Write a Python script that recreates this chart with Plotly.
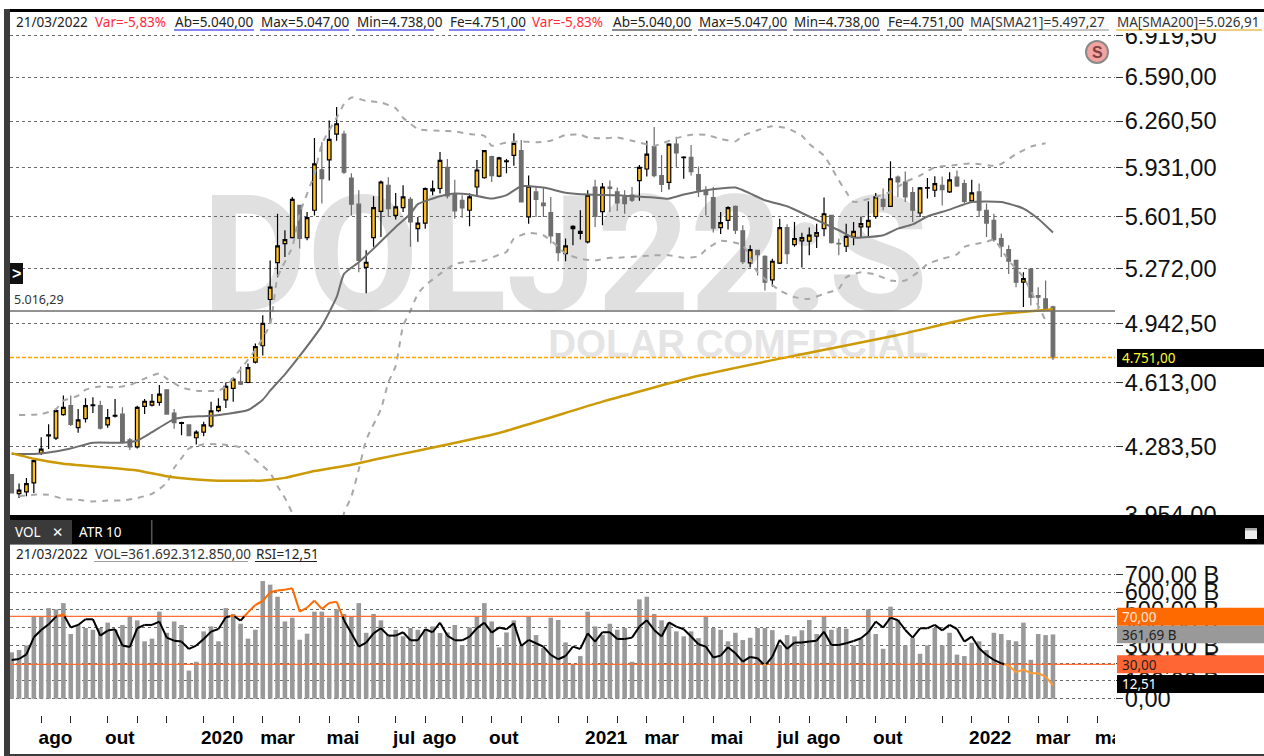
import pandas as pd
import plotly.graph_objects as go

W, H = 1264, 756
dates = list(pd.date_range("2019-07-08", periods=150, freq="7D"))
N = 142

opens = [4145,4054,4062,4105,4249,4336,4325,4445,4492,4378,
4425,4492,4492,4392,4437,4448,4316,4281,4488,4495,
4509,4576,4453,4400,4392,4327,4355,4387,4466,4522,
4583,4618,4615,4726,4817,5084,5308,5427,5465,5674,
5465,5642,5915,5983,6166,6166,5858,5682,5278,5465,
5635,5809,5608,5659,5714,5522,5558,5771,5787,5931,
5746,5708,5642,5797,5860,6006,5871,5971,6015,6048,
5599,5764,5690,5626,5491,5363,5522,5491,5438,5797,
5633,5797,5764,5730,5742,5840,5920,6077,5875,5829,
6095,5999,6001,5882,5775,5726,5529,5576,5668,5508,
5306,5384,5346,5202,5304,5529,5420,5444,5442,5474,
5522,5608,5429,5410,5469,5533,5533,5601,5714,5668,
5864,5831,5760,5624,5789,5775,5809,5764,5864,5820,
5704,5764,5642,5576,5459,5389,5321,5188,5268,5108,
5088,5040]
closes = [4057,4070,4101,4213,4270,4342,4466,4483,4395,4418,
4492,4496,4375,4430,4441,4308,4281,4483,4515,4515,
4553,4448,4404,4404,4337,4355,4392,4465,4488,4594,
4633,4606,4696,4812,4944,5158,5412,5452,5714,5459,
5593,5955,5853,6128,6241,5898,5682,5321,5310,5659,
5831,5653,5664,5730,5565,5558,5787,5784,5980,5737,
5637,5657,5730,5913,6048,5875,5997,5976,6100,5697,
5802,5713,5673,5476,5369,5412,5537,5505,5742,5601,
5797,5787,5690,5686,5708,5931,6024,5875,5815,6095,
6032,6003,5902,5775,5746,5526,5561,5659,5512,5314,
5389,5357,5188,5316,5529,5363,5459,5465,5480,5497,
5619,5433,5425,5473,5505,5554,5576,5730,5668,5853,
5831,5730,5642,5791,5793,5820,5780,5846,5804,5701,
5757,5642,5558,5452,5410,5316,5188,5210,5098,5098,
5028,4751]
highs = [4145,4102,4129,4225,4330,4395,4474,4545,4545,4474,
4531,4536,4518,4474,4527,4483,4325,4492,4527,4553,
4602,4576,4474,4408,4395,4365,4409,4513,4531,4615,
4642,4701,4719,4830,4992,5321,5619,5512,5730,5674,
5630,6138,6107,6265,6365,6190,5891,5775,5384,5735,
5842,5864,5757,5809,5730,5597,5793,5842,6039,5990,
5847,5742,5753,5983,6053,6013,6006,5990,6173,6124,
5875,5793,5793,5730,5491,5459,5544,5642,5775,5847,
5824,5842,5793,5775,5797,5947,6119,6218,6018,6100,
6147,6008,6088,5938,5802,5797,5630,5668,5674,5544,
5416,5384,5353,5331,5586,5550,5565,5495,5529,5554,
5726,5608,5459,5554,5565,5601,5701,5757,5787,5973,
5875,5902,5797,5797,5858,5871,5869,5898,5909,5846,
5846,5820,5686,5619,5491,5416,5325,5248,5268,5158,
5198,5047]
lows = [4057,4033,4041,4057,4241,4271,4316,4439,4387,4352,
4404,4453,4369,4378,4430,4299,4265,4273,4448,4488,
4492,4448,4373,4339,4334,4293,4334,4378,4457,4480,
4513,4601,4611,4719,4762,4948,5218,5342,5459,5395,
5448,5608,5686,5842,6119,5886,5608,5248,5122,5406,
5469,5597,5582,5630,5406,5438,5522,5742,5753,5720,
5586,5593,5537,5730,5853,5831,5864,5891,5943,5697,
5554,5597,5597,5427,5316,5316,5416,5452,5427,5533,
5544,5630,5637,5619,5697,5704,5869,5864,5764,5780,
5931,5853,5875,5730,5608,5497,5487,5516,5487,5299,
5278,5228,5138,5162,5299,5299,5406,5278,5353,5399,
5474,5427,5353,5374,5416,5465,5469,5586,5642,5664,
5730,5697,5565,5597,5719,5730,5674,5757,5797,5686,
5690,5597,5469,5438,5342,5238,5158,5040,5048,5028,
5018,4738]

sma21_idx = [0,3,5,8,11,15,17,19,22,24,27,32,34,35,37,39,42,44,45,47,49,52,54,55,58,60,62,65,67,69,72,75,78,82,87,89,91,94,98,102,105,108,112,114,118,120,122,124,127,130,134,137,139,141]
sma21_val = [4246,4246,4253,4273,4302,4302,4313,4355,4422,4434,4439,4469,4523,4571,4659,4760,4930,5098,5238,5310,5395,5533,5619,5682,5735,5753,5746,5719,5742,5802,5793,5759,5746,5742,5726,5719,5746,5775,5793,5708,5668,5601,5512,5465,5480,5522,5550,5601,5646,5697,5697,5653,5586,5497]

sma200_idx = [0,3,7,12,17,21,25,28,34,37,41,46,50,55,66,80,93,107,120,131,141]
sma200_val = [4250,4222,4198,4182,4165,4137,4121,4115,4117,4129,4162,4193,4225,4262,4351,4513,4651,4770,4878,4984,5027]

upper_idx = [1,4,6,7,9,10,12,14,16,18,20,21,23,25,28,29,31,33,35,36,38,39,41,42,44,45,46,48,50,52,53,55,58,60,62,64,65,67,69,71,73,75,77,78,80,82,84,87,90,92,94,96,98,99,101,103,105,107,108,110,111,112,113,114,117,119,121,123,125,127,130,133,134,136,138,140]
upper_val = [4443,4448,4474,4518,4545,4576,4594,4589,4601,4636,4664,4636,4589,4571,4571,4594,4687,4795,4938,5218,5406,5619,5886,6095,6285,6385,6435,6410,6398,6355,6285,6203,6190,6185,6166,6154,6083,6107,6114,6107,6119,6159,6161,6142,6135,6142,6119,6083,6137,6161,6161,6131,6114,6154,6194,6223,6208,6154,6095,6013,5931,5842,5764,5697,5730,5764,5831,5875,5931,5943,5959,5943,5955,6024,6077,6100]

lower_idx = [1,3,5,7,9,11,13,15,17,19,21,22,23,24,26,28,31,33,35,36,37,38,40,42,44,45,46,47,48,50,51,52,53,54,55,56,58,60,62,64,66,67,68,70,72,74,75,77,79,81,82,85,87,89,91,93,94,96,99,101,104,106,108,110,112,113,115,117,119,121,123,124,126,128,129,132,133,135,137,139,140]
lower_val = [4041,4049,4049,4029,4025,4017,4021,4022,4033,4053,4105,4177,4225,4273,4294,4294,4278,4217,4153,4089,4033,3962,3790,3740,3800,3962,4041,4169,4316,4474,4615,4705,4930,5018,5118,5168,5238,5299,5314,5321,5357,5374,5459,5495,5480,5406,5363,5331,5321,5338,5338,5346,5353,5353,5338,5346,5389,5444,5416,5248,5138,5098,5088,5118,5148,5218,5248,5234,5198,5198,5258,5299,5331,5359,5406,5438,5452,5321,5218,5048,4960]

volume = [261,274,300,463,463,510,503,538,364,416,
398,388,398,428,388,415,463,441,323,338,
490,371,435,415,158,208,379,407,323,510,
477,422,338,388,662,642,574,435,456,332,
366,490,490,456,503,477,463,538,371,477,
441,360,388,351,398,388,388,407,370,373,
415,302,401,463,538,435,289,373,441,300,
463,358,285,456,443,317,195,240,490,407,
360,422,388,398,208,559,574,477,441,426,
379,351,379,341,463,398,388,323,371,330,
343,398,398,386,300,358,351,385,443,364,
463,388,398,394,300,338,503,364,281,518,
445,300,341,253,300,398,300,371,248,240,
315,323,274,371,364,330,323,428,219,364,
358,361.69]

rsi = [33.6,34.4,38.3,52.5,58.6,63.3,69.7,71.7,60.6,62.8,
67.5,67.5,53.9,58.1,59.2,45.6,44.4,60,62.8,62.8,
65.6,52.2,49.7,48.9,42.8,45.6,51.1,57.2,59.4,69.2,
70.6,66.4,73.3,79.4,82.8,90,91.4,92.2,93.3,73.9,
77.2,83.1,76.1,81.1,82.2,66.7,55.8,44.7,48.1,55.8,
60,53.9,53.9,56.7,50,50,59.2,56.7,64.7,53.9,
50,50,53.1,60,64.7,56.4,60.6,59.2,64.2,45.3,
50.3,47.5,44.7,37.8,34.2,36.9,44.7,42.8,55.8,48.9,
56.7,56.7,51.1,51.1,52.2,61.4,66.7,58.6,53.1,65,
61.4,59.2,53.1,46.7,44.7,35.6,37.2,44.2,39.2,32.2,
36.1,35,28.9,36.4,50.3,42.8,48.1,48.1,48.9,49.7,
57.2,46.1,46.1,47.5,49.4,51.7,56.7,65.6,60.6,68.9,
66.7,58.6,52.2,60,60,62.8,58.3,62.8,59.4,48.9,
53.1,43.3,37.8,33.6,30.8,28.9,23.3,25.8,22.5,22.5,
19.7,12.51]

price_ticks = [3954,4283.5,4613,4942.5,5272,5601.5,5931,6260.5,6590,6919.5]
price_labels = ["3.954,00","4.283,50","4.613,00","4.942,50","5.272,00","5.601,50","5.931,00","6.260,50","6.590,00","6.919,50"]
vol_ticks = [0,100,200,300,400,500,600,700]
vol_labels = ["0,00","100,00 B","200,00 B","300,00 B","400,00 B","500,00 B","600,00 B","700,00 B"]
tick_idx = [4,8,13,17,21,26,30,34,39,43,47,52,56,61,65,69,74,78,82,86,91,95,100,104,108,113,117,121,126,130,135,139,143,147]
label_idx = [4,13,26,34,43,52,56,65,78,86,95,104,108,117,130,139,147]
label_txt = ["ago","out","2020","mar","mai","jul","ago","out","2021","mar","mai","jul","ago","out","2022","mar","mai"]

X_RANGE = ["2019-07-06 10:00", "2022-05-18 19:00"]
def xp(px): return px / W
def yp(px): return 1 - px / H
FONT = "Noto Sans"
AR = "Liberation Sans"

def pick(idx): return [dates[i] for i in idx]

def split_rsi():
    hi_x, hi_y, mid_x, mid_y, lo_x, lo_y = [], [], [], [], [], []
    def zone(v): return 2 if v > 70 else (0 if v < 30 else 1)
    buckets = {2: (hi_x, hi_y), 1: (mid_x, mid_y), 0: (lo_x, lo_y)}
    week = pd.Timedelta(days=7)
    for i in range(len(rsi) - 1):
        a, b = rsi[i], rsi[i + 1]
        pts = [(0.0, a)]
        for lev in (30, 70):
            if (a - lev) * (b - lev) < 0:
                pts.append(((lev - a) / (b - a), lev))
        pts.append((1.0, b))
        pts.sort()
        for (t0, v0), (t1, v1) in zip(pts[:-1], pts[1:]):
            z = zone((v0 + v1) / 2)
            bx, by = buckets[z]
            bx += [dates[i] + week * t0, dates[i] + week * t1, None]
            by += [v0, v1, None]
    return hi_x, hi_y, mid_x, mid_y, lo_x, lo_y

fig = go.Figure()
# Price pane
fig.add_trace(go.Candlestick(x=dates[:N], open=opens, high=highs, low=lows, close=closes,
    increasing=dict(line=dict(color="#000000", width=1.2), fillcolor="#FFBF1F"),
    decreasing=dict(line=dict(color="#6E6E6E", width=1.2), fillcolor="#6E6E6E"),
    whiskerwidth=0, xaxis="x", yaxis="y", hoverinfo="skip", showlegend=False))
band = dict(color="#A8A8A8", width=2, dash="6px,6px", shape="spline", smoothing=0.5)
fig.add_trace(go.Scatter(x=pick(upper_idx), y=upper_val, mode="lines", line=band, xaxis="x", yaxis="y", showlegend=False))
fig.add_trace(go.Scatter(x=pick(lower_idx), y=lower_val, mode="lines", line=band, xaxis="x", yaxis="y", showlegend=False))
fig.add_trace(go.Scatter(x=pick(sma21_idx), y=sma21_val, mode="lines",
    line=dict(color="#6E6E6E", width=2, shape="spline", smoothing=0.5), xaxis="x", yaxis="y", showlegend=False))
fig.add_trace(go.Scatter(x=pick(sma200_idx), y=sma200_val, mode="lines",
    line=dict(color="#CC9A06", width=2.5, shape="spline", smoothing=0.5), xaxis="x", yaxis="y", showlegend=False))
fig.add_trace(go.Scatter(x=X_RANGE, y=[5016.29, 5016.29], mode="lines",
    line=dict(color="#6E6E6E", width=1.3), xaxis="x", yaxis="y", showlegend=False))
fig.add_trace(go.Scatter(x=X_RANGE, y=[4751, 4751], mode="lines",
    line=dict(color="#FFA500", width=1.5, dash="4px,2px"), xaxis="x", yaxis="y", showlegend=False))

# Lower pane
fig.add_trace(go.Bar(x=dates[:N], y=volume, marker=dict(color="#999999", line=dict(width=0)),
    xaxis="x2", yaxis="y2", showlegend=False))
for lev in (70, 30):
    fig.add_trace(go.Scatter(x=X_RANGE, y=[lev, lev], mode="lines",
        line=dict(color="#FF6E33", width=1.2), xaxis="x2", yaxis="y3", showlegend=False))
hx, hy, mx, my, lx, ly = split_rsi()
fig.add_trace(go.Scatter(x=mx, y=my, mode="lines", line=dict(color="#000000", width=2), xaxis="x2", yaxis="y3", showlegend=False))
fig.add_trace(go.Scatter(x=hx, y=hy, mode="lines", line=dict(color="#FF6A00", width=2), xaxis="x2", yaxis="y3", showlegend=False))
fig.add_trace(go.Scatter(x=lx, y=ly, mode="lines", line=dict(color="#FF9A33", width=2), xaxis="x2", yaxis="y3", showlegend=False))
label_dates = [d - pd.Timedelta(days=2.5) for d in pick(label_idx)]
fig.add_trace(go.Scatter(x=label_dates, y=[-227] * len(label_idx), text=label_txt, mode="text",
    textposition="middle right", textfont=dict(family=AR, size=19, color="#000000", weight="bold"),
    cliponaxis=True, xaxis="x2", yaxis="y2", showlegend=False))

grid = dict(automargin=False, showgrid=True, gridcolor="#6A6A6A", gridwidth=1, griddash="3px,3px", zeroline=False,
            showline=False, side="right", ticks="outside", ticklen=7, tickcolor="#333333", ticklabelstandoff=-3,
            tickfont=dict(family=AR, size=23.6, color="#111111"), tickmode="array")

shapes = []
def rect(x0, y0, x1, y1, fill, layer="above", line=None, **kw):
    shapes.append(dict(type="rect", xref="paper", yref="paper", x0=xp(x0), x1=xp(x1), y0=yp(y0), y1=yp(y1),
        fillcolor=fill, line=line or dict(width=0), layer=layer, **kw))
def uline(x0, x1, y, color):
    shapes.append(dict(type="line", xref="paper", yref="paper", x0=xp(x0), x1=xp(x1), y0=yp(y), y1=yp(y),
        line=dict(color=color, width=1), layer="above"))

# Watermark behind the traces
rect(205, 178, 925, 308, "rgba(0,0,0,0)", layer="below",
     label=dict(text="<b>DOLJ22:S</b>", font=dict(family="Roboto", size=162, color="#E0E0E0"), textposition="middle center"))
rect(545, 320, 932, 360, "rgba(0,0,0,0)", layer="below",
     label=dict(text="<b>DOLAR COMERCIAL</b>", font=dict(family=AR, size=38.5, color="#E4E4E4"), textposition="middle center"))

rect(4, 12, 1264, 33, "#FFFFFF")      # header strip
rect(4, 9, 1264, 12, "#000000")       # top rule
rect(4, 515, 1264, 544, "#000000")    # pane separator
rect(4, 544, 1264, 545, "#8A8A8A")
rect(10, 520, 72, 544, "#3A3A3A")
rect(151, 520, 152.5, 544, "#555555")
rect(4, 9, 10, 756, "#3C3C3C")        # left bar
rect(4, 754, 1264, 756, "#3C3C3C")
rect(10, 263, 23, 284, "#111111")
rect(1245, 528, 1257, 539, "#EDEDED")
rect(1245, 528, 1257, 530.5, "#A8A8A8")
# Right label boxes
rect(1117, 349, 1264, 367, "#000000")
rect(1117, 607.7, 1264, 625.7, "#FF6A00")
rect(1117, 625.7, 1264, 643.3, "#999999")
rect(1117, 655.3, 1264, 673.3, "#FF6633")
rect(1117, 675, 1264, 693, "#000000")
shapes.append(dict(type="circle", xref="paper", yref="paper", x0=xp(1086), x1=xp(1108), y0=yp(63), y1=yp(41),
    fillcolor="#F4A3A3", line=dict(color="#8A8A8A", width=2), layer="above"))

ann = []
def text(x, y, s, color="#222222", size=13.5, family=FONT, anchor="left"):
    ann.append(dict(xref="paper", yref="paper", x=xp(x), y=yp(y), text=s, showarrow=False, xanchor=anchor,
        yanchor="middle", xshift=0, borderpad=0, font=dict(family=family, size=size, color=color)))

RED = "#FF2A3C"; BLUE = "#0A0AE6"
hdr = [(15, "21/03/2022", "#222222", None, 0),
       (94, "Var=-5,83%", RED, None, 0),
       (174, "Ab=5.040,00", "#222222", BLUE, 254),
       (260, "Max=5.047,00", "#222222", BLUE, 349),
       (356, "Min=4.738,00", "#222222", BLUE, 434),
       (449, "Fe=4.751,00", "#222222", BLUE, 525),
       (531, "Var=-5,83%", RED, None, 0),
       (612, "Ab=5.040,00", "#222222", "#111111", 692),
       (698, "Max=5.047,00", "#222222", "#1A1A60", 787),
       (793, "Min=4.738,00", "#222222", "#1A1A60", 880),
       (887, "Fe=4.751,00", "#222222", "#111111", 962),
       (969, "MA[SMA21]=5.497,27", "#333333", "#8A8A8A", 1109),
       (1116, "MA[SMA200]=5.026,91", "#333333", "#E0A000", 1262)]
for x, s, c, u, xe in hdr:
    text(x, 22, s, c)
    if u:
        uline(x, xe, 30, u)
text(15, 554, "21/03/2022")
text(94, 554, "VOL=361.692.312.850,00", "#333333")
uline(94, 248, 561.5, "#A0A0A0")
text(255, 554, "RSI=12,51", "#222222")
uline(255, 317, 561.5, "#222222")
text(13, 300, "5.016,29", "#333333", 12.5)
text(1121, 358, "4.751,00", "#FFFF33", 13.5)
text(1121, 617, "70,00", "#FFE8DC", 13.5)
text(1121, 635, "361,69 B", "#222222", 13.5)
text(1121, 665, "30,00", "#222222", 13.5)
text(1121, 684, "12,51", "#FFFFFF", 13.5)
text(14, 532, "VOL", "#FFFFFF", 13.5)
text(51, 532, "<b>✕</b>", "#FFFFFF", 13.5, "DejaVu Sans")
text(78, 532, "ATR 10", "#FFFFFF", 13.5)
text(1097, 52, "<b>S</b>", "#80403F", 16, AR, "center")
text(16.5, 273, "<b>&gt;</b>", "#FFFFFF", 16, AR, "center")

fig.update_layout(
    width=W, height=H, margin=dict(l=0, r=0, t=0, b=0, pad=0), autosize=False,
    paper_bgcolor="#FFFFFF", plot_bgcolor="rgba(255,255,255,0)", bargap=0.38, showlegend=False,
    xaxis=dict(domain=[xp(10), xp(1115)], range=X_RANGE, type="date", rangeslider=dict(visible=False), automargin=False,
               showgrid=False, zeroline=False, showticklabels=False, ticks="", anchor="y"),
    yaxis=dict(domain=[yp(515), yp(11)], type="log", range=[3.59704, 3.85237], anchor="x",
               tickvals=price_ticks, ticktext=price_labels, **grid),
    xaxis2=dict(domain=[xp(10), xp(1115)], range=X_RANGE, type="date", showgrid=False, zeroline=False, automargin=False,
                anchor="free", position=yp(723), ticks="inside", ticklen=7, tickwidth=1, tickcolor="#222222",
                tickmode="array", tickvals=pick(tick_idx), showticklabels=False, showline=False),
    yaxis2=dict(domain=[yp(755), yp(545)], range=[-316.8, 865], anchor="x2",
                tickvals=vol_ticks, ticktext=vol_labels, **grid),
    yaxis3=dict(domain=[yp(755), yp(545)], range=[-45.6, 129.4], overlaying="y2", anchor="x2", side="left", automargin=False,
                showgrid=False, zeroline=False, showticklabels=False, ticks=""),
    shapes=shapes, annotations=ann, hovermode=False,
)
fig.write_html("out.html", config=dict(displayModeBar=False),
               post_script="document.body.style.margin='0';document.documentElement.style.overflow='hidden';")
